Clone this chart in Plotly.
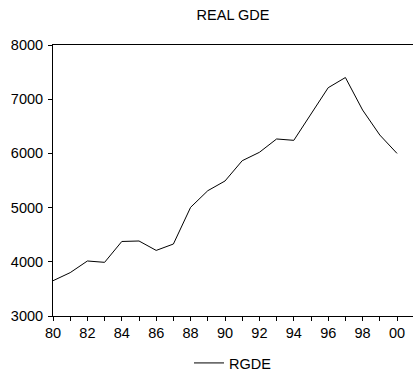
import plotly.graph_objects as go

years = list(range(1980, 2001))
rgde = [3651, 3800, 4015, 3990, 4375, 4384, 4210, 4328, 5005, 5312, 5491,
        5865, 6020, 6266, 6241, 6720, 7212, 7400, 6800, 6339, 6000]
xtick_vals = years
xtick_text = [f"{y % 100:02d}" if y % 2 == 0 else "" for y in years]
ytick_vals = [3000, 4000, 5000, 6000, 7000, 8000]

FONT = "Liberation Sans, Arial, sans-serif"
FS = 14.5

fig = go.Figure()
fig.add_trace(go.Scatter(x=years, y=rgde, mode="lines", name="RGDE",
                         line=dict(color="black", width=1)))

fig.update_layout(
    width=413, height=378,
    margin=dict(l=53, r=0, t=45, b=62, autoexpand=False),
    paper_bgcolor="white", plot_bgcolor="white",
    font=dict(family=FONT, size=FS, color="black"),
    title=dict(text="REAL GDE", x=233 / 413, xanchor="center", xref="container",
               y=1 - 15 / 378, yref="container", yanchor="middle",
               font=dict(family=FONT, size=FS, color="black")),
    showlegend=True,
    legend=dict(orientation="h", x=0.5, xanchor="center", xref="paper",
                y=1 - 363 / 378, yref="container", yanchor="middle",
                font=dict(family=FONT, size=FS, color="black"),
                bgcolor="rgba(0,0,0,0)"),
)
fig.update_xaxes(range=[1980, 1980 + 360 / 17.2], tickvals=xtick_vals, ticktext=xtick_text,
                 ticks="outside", ticklen=4, tickcolor="black", showgrid=False,
                 zeroline=False, showline=True, linecolor="black", linewidth=1,
                 mirror=True, automargin=False)
fig.update_yaxes(range=[3000, 8000], tickvals=ytick_vals, ticks="outside", ticklen=4,
                 tickcolor="black", showgrid=False, zeroline=False, showline=True,
                 linecolor="black", linewidth=1, automargin=False, ticklabelstandoff=2)

fig.write_html("out.html", config={"displayModeBar": False})
with open("out.html", encoding="utf-8") as f:
    html = f.read()
html = html.replace("<head>", "<head><style>html,body{margin:0;padding:0;overflow:hidden;}</style>", 1)
with open("out.html", "w", encoding="utf-8") as f:
    f.write(html)
